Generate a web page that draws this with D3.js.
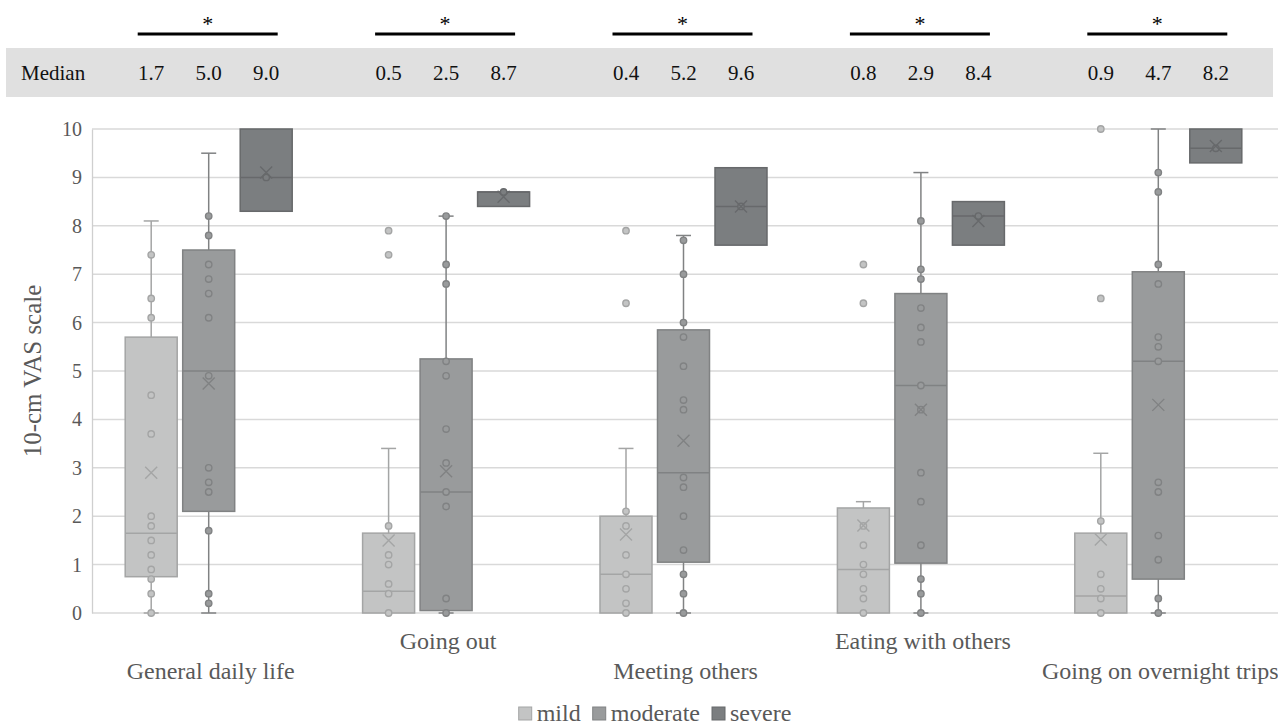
<!DOCTYPE html>
<html>
<head>
<meta charset="utf-8">
<script src="https://cdn.jsdelivr.net/npm/d3@7"></script>
<style>
  body { margin: 0; background: #fff; }
</style>
</head>
<body>
<div id="chart"></div>
<script>
// categorias y series
var categories = ["General daily life", "Going out", "Meeting others", "Eating with others", "Going on overnight trips"];
var series = ["mild", "moderate", "severe"];

// tabla de medianas (texto tal como aparece arriba)
var medianTable = [["1.7", "5.0", "9.0"], ["0.5", "2.5", "8.7"], ["0.4", "5.2", "9.6"], ["0.8", "2.9", "8.4"], ["0.9", "4.7", "8.2"]];

// mild
var mildLow = [0, 0, 0, 0, 0];
var mildQ1 = [0.75, 0, 0, 0, 0];
var mildMed = [1.65, 0.45, 0.8, 0.9, 0.35];
var mildQ3 = [5.7, 1.65, 2.0, 2.17, 1.65];
var mildHigh = [8.1, 3.4, 3.4, 2.3, 3.3];
var mildMean = [2.9, 1.5, 1.62, 1.81, 1.52];
var mildPoints = [
  [7.4, 6.5, 6.1, 4.5, 3.7, 2.0, 1.8, 1.5, 1.2, 0.9, 0.7, 0.4, 0],
  [7.9, 7.4, 1.8, 1.2, 1.0, 0.6, 0.4, 0],
  [7.9, 6.4, 2.1, 1.8, 1.2, 0.8, 0.5, 0.2, 0],
  [7.2, 6.4, 1.8, 1.4, 1.0, 0.8, 0.5, 0.3, 0],
  [10, 6.5, 1.9, 0.8, 0.5, 0.3, 0]
];

// moderate
var modLow = [0, 0, 0, 0, 0];
var modQ1 = [2.1, 0.05, 1.05, 1.03, 0.7];
var modMed = [5.0, 2.5, 2.9, 4.7, 5.2];
var modQ3 = [7.5, 5.25, 5.85, 6.6, 7.05];
var modHigh = [9.5, 8.2, 7.8, 9.1, 10];
var modMean = [4.74, 2.93, 3.56, 4.2, 4.3];
var modPoints = [
  [8.2, 7.8, 7.2, 6.9, 6.6, 6.1, 4.9, 3.0, 2.7, 2.5, 1.7, 0.4, 0.2],
  [8.2, 7.2, 6.8, 5.2, 4.9, 3.8, 3.1, 2.5, 2.2, 0.3, 0],
  [7.7, 7.0, 6.0, 5.7, 5.1, 4.4, 4.2, 2.8, 2.6, 2.0, 1.3, 0.8, 0.4, 0],
  [8.1, 7.1, 6.9, 6.3, 5.9, 5.6, 4.7, 4.2, 2.9, 2.3, 1.4, 0.7, 0.4, 0],
  [9.1, 8.7, 7.2, 6.8, 5.7, 5.5, 5.2, 2.7, 2.5, 1.6, 1.1, 0.3, 0]
];

// severe
var sevLow = [8.3, 8.4, 7.6, 7.6, 9.3];
var sevQ1 = [8.3, 8.4, 7.6, 7.6, 9.3];
var sevMed = [9.0, 8.7, 8.4, 8.2, 9.6];
var sevQ3 = [10, 8.7, 9.2, 8.5, 10];
var sevHigh = [10, 8.7, 9.2, 8.5, 10];
var sevMean = [9.1, 8.6, 8.4, 8.1, 9.65];
var sevPoints = [[9.0], [8.7], [8.4], [8.2], [9.6]];

var yTicks = [0, 1, 2, 3, 4, 5, 6, 7, 8, 9, 10];

var fills = { mild: "#c3c4c4", moderate: "#999b9c", severe: "#7b7e80" };
var strokes = { mild: "#a4a5a5", moderate: "#808283", severe: "#67696b" };

var stats = {
  mild: { low: mildLow, q1: mildQ1, med: mildMed, q3: mildQ3, high: mildHigh, mean: mildMean, pts: mildPoints },
  moderate: { low: modLow, q1: modQ1, med: modMed, q3: modQ3, high: modHigh, mean: modMean, pts: modPoints },
  severe: { low: sevLow, q1: sevQ1, med: sevMed, q3: sevQ3, high: sevHigh, mean: sevMean, pts: sevPoints }
};

var FONT = '"Liberation Serif", "DejaVu Serif", serif';

var W = 1278, H = 726;
var svg = d3.select("#chart").append("svg")
    .attr("width", W)
    .attr("height", H)
    .attr("font-family", FONT);

var x = d3.scaleBand().domain(categories).range([90, 1277]);
var xs = d3.scalePoint().domain(series).range([-57.5, 57.5]);
var y = d3.scaleLinear().domain([0, 10]).range([613, 129]);
var boxW = 52, capW = 15;

function cx(ci, s) { return x(categories[ci]) + x.bandwidth() / 2 + xs(s); }

// banda de medianas
svg.append("rect")
    .attr("x", 6).attr("y", 48)
    .attr("width", 1267).attr("height", 49)
    .attr("fill", "#e0e0e0");

svg.append("text")
    .attr("x", 21).attr("y", 80)
    .attr("font-size", 21)
    .attr("fill", "#111")
    .text("Median");

categories.forEach(function(c, ci) {
  series.forEach(function(s, si) {
    svg.append("text")
      .attr("x", cx(ci, s))
      .attr("y", 80)
      .attr("text-anchor", "middle")
      .attr("font-size", 21)
      .attr("fill", "#111")
      .text(medianTable[ci][si]);
  });
  var gc = x(c) + x.bandwidth() / 2;
  svg.append("line")
    .attr("x1", gc - 71).attr("x2", gc + 69)
    .attr("y1", 34).attr("y2", 34)
    .attr("stroke", "#000").attr("stroke-width", 3);
  svg.append("text")
    .attr("x", gc - 1).attr("y", 31)
    .attr("text-anchor", "middle")
    .attr("font-size", 22)
    .attr("fill", "#000")
    .text("*");
});

// rejilla
svg.append("g")
  .selectAll("line")
  .data(yTicks)
  .join("line")
    .attr("x1", 92).attr("x2", W)
    .attr("y1", function(d) { return y(d); })
    .attr("y2", function(d) { return y(d); })
    .attr("stroke", "#d9d9d9")
    .attr("stroke-width", 1.5);

// eje y
var yAxis = svg.append("g")
    .attr("transform", "translate(92,0)")
    .call(d3.axisLeft(y).tickValues(yTicks).tickSize(0).tickPadding(10).tickFormat(d3.format("d")))
    .attr("font-family", FONT);
yAxis.select(".domain").attr("stroke", "#cfcfcf").attr("stroke-width", 1.3);
yAxis.selectAll("text")
    .attr("font-size", 20)
    .attr("fill", "#595959");

svg.append("text")
    .attr("transform", "translate(41,371) rotate(-90)")
    .attr("text-anchor", "middle")
    .attr("font-size", 25)
    .attr("fill", "#595959")
    .text("10-cm VAS scale");

// cajas
var plot = svg.append("g");
series.forEach(function(s) {
  var st = stats[s];
  categories.forEach(function(c, ci) {
    var xc = cx(ci, s);
    var g = plot.append("g");
    // bigotes
    if (st.high[ci] > st.q3[ci]) {
      g.append("line").attr("x1", xc).attr("x2", xc)
        .attr("y1", y(st.q3[ci])).attr("y2", y(st.high[ci]))
        .attr("stroke", strokes[s]).attr("stroke-width", 1.5);
      g.append("line").attr("x1", xc - capW / 2).attr("x2", xc + capW / 2)
        .attr("y1", y(st.high[ci])).attr("y2", y(st.high[ci]))
        .attr("stroke", strokes[s]).attr("stroke-width", 1.5);
    }
    if (st.low[ci] < st.q1[ci]) {
      g.append("line").attr("x1", xc).attr("x2", xc)
        .attr("y1", y(st.q1[ci])).attr("y2", y(st.low[ci]))
        .attr("stroke", strokes[s]).attr("stroke-width", 1.5);
      g.append("line").attr("x1", xc - capW / 2).attr("x2", xc + capW / 2)
        .attr("y1", y(st.low[ci])).attr("y2", y(st.low[ci]))
        .attr("stroke", strokes[s]).attr("stroke-width", 1.5);
    }
    g.append("rect")
      .attr("x", xc - boxW / 2)
      .attr("y", y(st.q3[ci]))
      .attr("width", boxW)
      .attr("height", y(st.q1[ci]) - y(st.q3[ci]))
      .attr("fill", fills[s])
      .attr("stroke", strokes[s])
      .attr("stroke-width", 1.5);
    g.append("line")
      .attr("x1", xc - boxW / 2).attr("x2", xc + boxW / 2)
      .attr("y1", y(st.med[ci])).attr("y2", y(st.med[ci]))
      .attr("stroke", strokes[s]).attr("stroke-width", 1.5);
    g.selectAll("circle")
      .data(st.pts[ci])
      .join("circle")
        .attr("cx", xc)
        .attr("cy", function(d) { return y(d); })
        .attr("r", 3.2)
        .attr("fill", fills[s])
        .attr("stroke", strokes[s])
        .attr("stroke-width", 1.4);
    var m = y(st.mean[ci]), k = 6;
    g.append("path")
      .attr("d", "M" + (xc - k) + "," + (m - k) + "L" + (xc + k) + "," + (m + k) +
                 "M" + (xc - k) + "," + (m + k) + "L" + (xc + k) + "," + (m - k))
      .attr("stroke", strokes[s])
      .attr("stroke-width", 1.4)
      .attr("fill", "none");
  });
});

// etiquetas de categoria (escalonadas)
svg.append("g")
  .selectAll("text")
  .data(categories)
  .join("text")
    .attr("x", function(d) { return x(d) + x.bandwidth() / 2 + 2; })
    .attr("y", function(d, i) { return i % 2 === 1 ? 649 : 679; })
    .attr("text-anchor", "middle")
    .attr("font-size", 24)
    .attr("fill", "#595959")
    .text(function(d) { return d; });

// leyenda
var legend = svg.append("g");
var lx = 0;
series.forEach(function(s) {
  legend.append("rect")
    .attr("x", lx).attr("y", -14)
    .attr("width", 13).attr("height", 13)
    .attr("fill", fills[s])
    .attr("stroke", strokes[s]);
  var t = legend.append("text")
    .attr("x", lx + 18).attr("y", 0)
    .attr("font-size", 24)
    .attr("fill", "#595959")
    .text(s);
  lx += 18 + t.node().getComputedTextLength() + 12;
});
legend.attr("transform", "translate(" + (655 - (lx - 12) / 2) + ",721)");
</script>
</body>
</html>
